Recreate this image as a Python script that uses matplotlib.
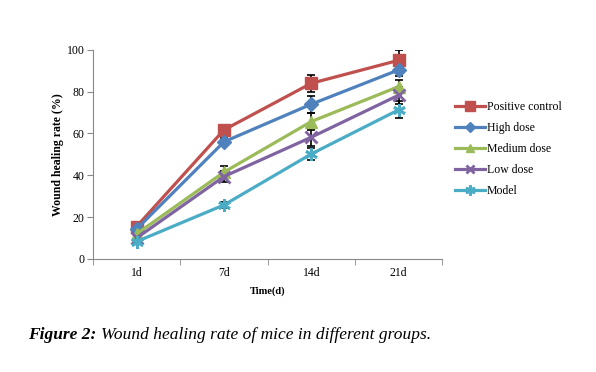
import matplotlib.pyplot as plt
import numpy as np

# dados
days = ['1d', '7d', '14d', '21d']
groups = ['Positive control', 'High dose', 'Medium dose', 'Low dose', 'Model']
positive = [15.5, 61.7, 84.0, 95.0]
high = [14.3, 56.0, 74.0, 90.4]
medium = [12.0, 41.5, 65.7, 82.4]
low = [10.0, 39.4, 58.2, 78.3]
model = [8.3, 25.8, 50.2, 71.3]
err_positive = [1.0, 1.5, 4.0, 5.0]
err_high = [1.0, 2.0, 4.0, 3.0]
err_medium = [1.0, 3.0, 4.0, 3.0]
err_low = [1.0, 2.5, 4.0, 4.0]
err_model = [1.0, 1.5, 3.0, 4.0]

series = [positive, high, medium, low, model]
errs = [err_positive, err_high, err_medium, err_low, err_model]
colors = ['#C0504D', '#4F81BD', '#9BBB59', '#8064A2', '#4BACC6']
markers = ['s', 'D', '^', 'x', (6, 2, 0)]
msizes = [9, 7, 8, 8, 9]

plt.rcParams['font.family'] = ['Liberation Serif', 'DejaVu Serif']

fig = plt.figure(figsize=(5.96, 3.72), dpi=100)
ax = fig.add_axes([0.156, 0.304, 0.586, 0.562])

x = np.arange(len(days))
for i in range(len(series)):
    ax.errorbar(x, series[i], yerr=errs[i], fmt='none', ecolor='black',
                elinewidth=1.2, capsize=3, capthick=1.2, zorder=1)
for i in range(len(series)):
    ax.plot(x, series[i], color=colors[i], lw=2.3, marker=markers[i],
            ms=msizes[i], mew=2 if i >= 3 else 1, label=groups[i], zorder=2)

ax.set_xlim(-0.5, 3.5)
ax.set_ylim(0, 100)
ax.set_yticks([0, 20, 40, 60, 80, 100])
ax.set_xticks(x)
ax.set_xticklabels(days)
ax.set_xticks(np.arange(-0.5, 4, 1), minor=True)
ax.tick_params(axis='x', which='major', length=0, pad=6)
ax.tick_params(axis='x', which='minor', length=4, color='#888888')
ax.tick_params(axis='y', length=4, color='#888888', pad=2)
ax.tick_params(labelsize=8.5)
for s in ['top', 'right']:
    ax.spines[s].set_visible(False)
for s in ['left', 'bottom']:
    ax.spines[s].set_color('#888888')

ax.set_ylabel('Wound healing rate (%)', fontsize=8.5, fontweight='bold', labelpad=2)
ax.set_xlabel('Time(d)', fontsize=7.5, fontweight='bold', labelpad=5)

fig.legend(loc='upper left', bbox_to_anchor=(0.755, 0.74), frameon=False,
           fontsize=8.5, handlelength=2.6, handletextpad=0.1, labelspacing=0.75,
           borderaxespad=0, markerscale=0.8)

# legenda da figura: parte em negrito e o resto logo depois
t1 = fig.text(0.047, 0.09, 'Figure 2:', fontsize=12.5, fontweight='bold', style='italic')
fig.canvas.draw()
bb = t1.get_window_extent()
x2 = (bb.x1 + 5) / fig.bbox.width
fig.text(x2, 0.09, 'Wound healing rate of mice in different groups.',
         fontsize=12.5, style='italic')

fig.savefig('out.png', dpi=100)
